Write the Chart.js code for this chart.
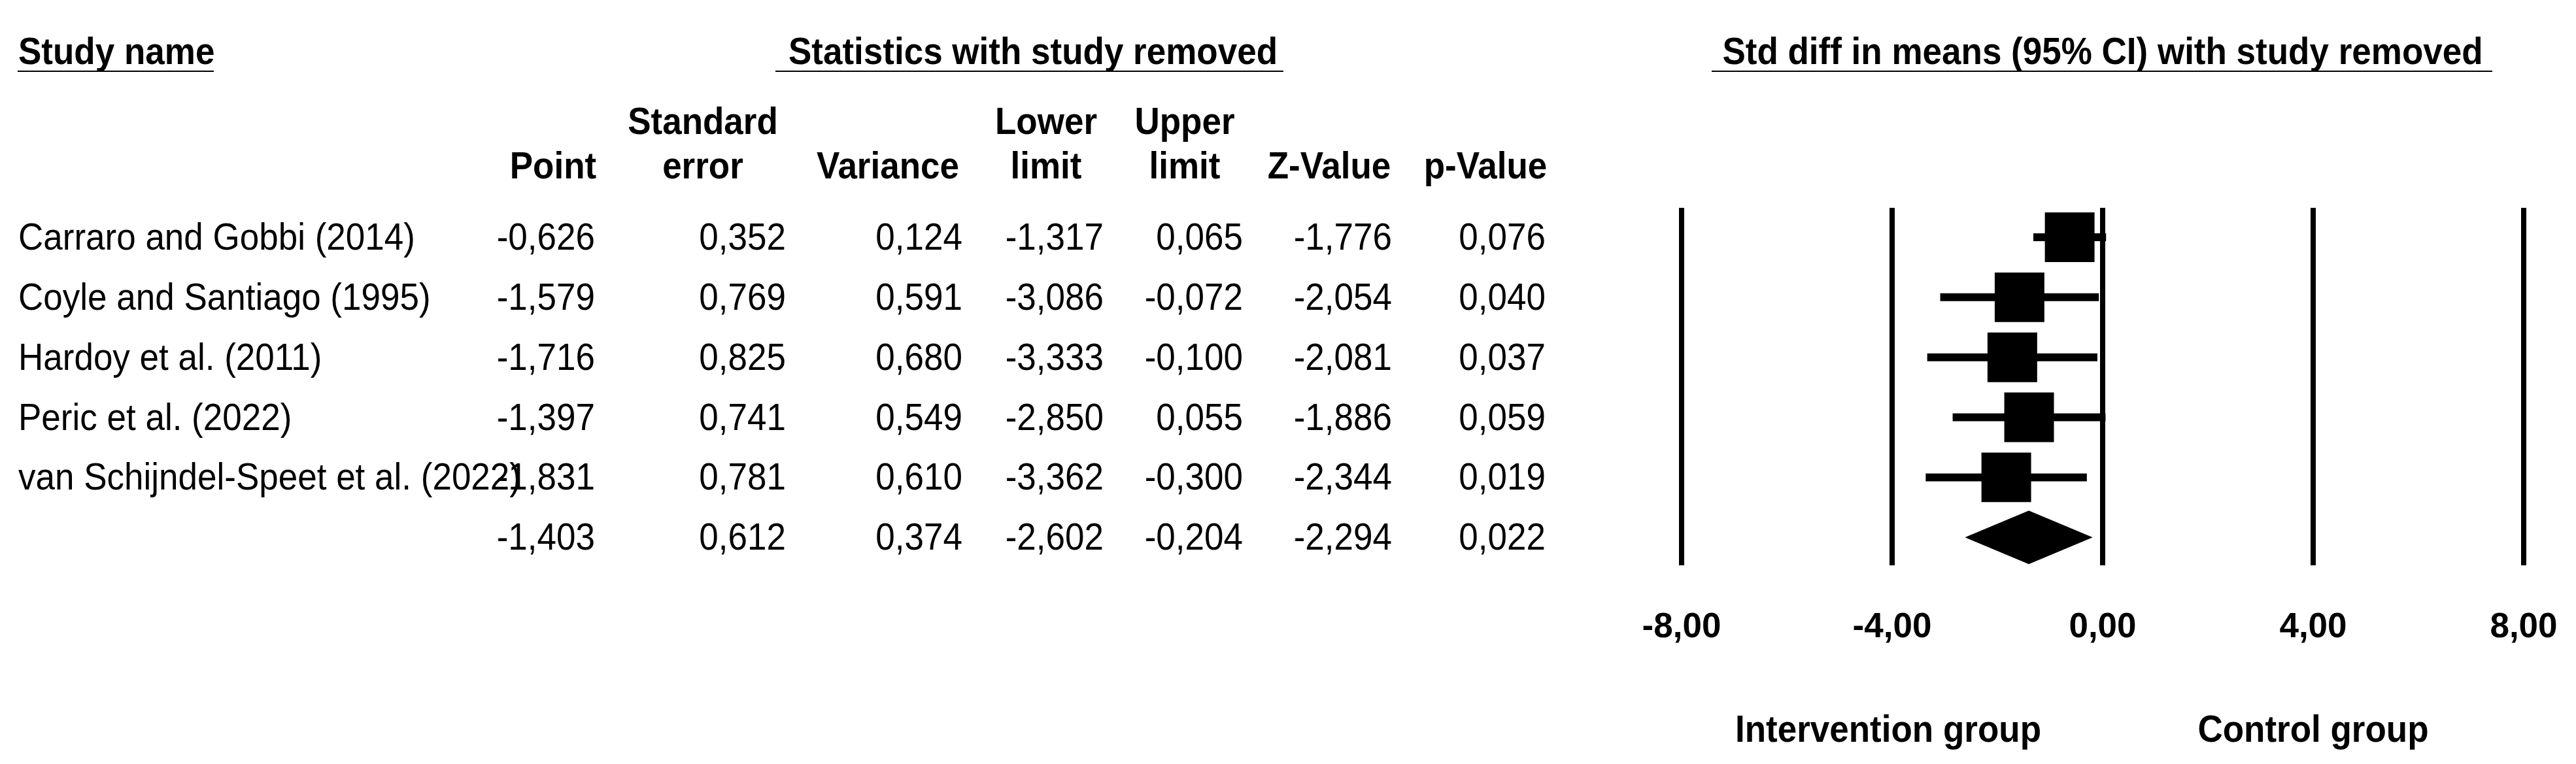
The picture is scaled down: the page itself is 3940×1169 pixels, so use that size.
<!DOCTYPE html>
<html>
<head>
<meta charset="utf-8">
<script src="https://cdn.jsdelivr.net/npm/chart.js@4.4.0/dist/chart.umd.min.js"></script>
<style>
  html, body { margin: 0; padding: 0; background: #fff; }
  #wrap { width: 3940px; height: 1169px; }
</style>
</head>
<body>
<div id="wrap"><canvas id="forest" width="3940" height="1169"></canvas></div>
<script>
// study rows, last entry of each value array is the combined (summary) row
var studyNames = [
  'Carraro and Gobbi (2014)',
  'Coyle and Santiago (1995)',
  'Hardoy et al. (2011)',
  'Peric et al. (2022)',
  'van Schijndel-Speet et al. (2022)'
];
var point      = [-0.626, -1.579, -1.716, -1.397, -1.831, -1.403];
var stdError   = [0.352, 0.769, 0.825, 0.741, 0.781, 0.612];
var variance   = [0.124, 0.591, 0.680, 0.549, 0.610, 0.374];
var lowerLimit = [-1.317, -3.086, -3.333, -2.850, -3.362, -2.602];
var upperLimit = [0.065, -0.072, -0.100, 0.055, -0.300, -0.204];
var zValue     = [-1.776, -2.054, -2.081, -1.886, -2.344, -2.294];
var pValue     = [0.076, 0.040, 0.037, 0.059, 0.019, 0.022];

var headTop    = ['', 'Standard', '', 'Lower', 'Upper', '', ''];
var headBottom = ['Point', 'error', 'Variance', 'limit', 'limit', 'Z-Value', 'p-Value'];
var axisMin = -8, axisMax = 8, axisStep = 4;

// layout of the table (pixels)
var headCenter = [846, 1075, 1358, 1600, 1812, 2033, 2272];
var dataRight  = [910, 1202, 1472, 1688, 1901, 2129, 2364];
var FONT = '"Liberation Sans", Arial, sans-serif';
var DIAMOND_HALF = 0.44;

var columns = [point, stdError, variance, lowerLimit, upperLimit, zValue, pValue];
var summaryRow = studyNames.length;

function fmt(v, d) {
  return v.toFixed(d).replace('.', ',');
}

function drawText(ctx, text, x, y, align, bold) {
  ctx.save();
  ctx.font = (bold ? 'bold ' : '') + '53px ' + FONT;
  ctx.textAlign = align;
  ctx.textBaseline = 'alphabetic';
  ctx.fillStyle = '#000';
  ctx.translate(x, y);
  ctx.scale(1, 1.07);
  ctx.fillText(text, 0, 0);
  ctx.restore();
}

var tableText = {
  id: 'tableText',
  afterDraw: function(chart) {
    var ctx = chart.ctx;
    var ys = chart.scales.y, xs = chart.scales.x;

    // titles with underline
    drawText(ctx, 'Study name', 28, 98, 'left', true);
    drawText(ctx, 'Statistics with study removed', 1580, 98, 'center', true);
    drawText(ctx, 'Std diff in means (95% CI) with study removed', xs.getPixelForValue(0), 98, 'center', true);
    ctx.fillStyle = '#000';
    ctx.fillRect(27, 108, 300, 2);
    ctx.fillRect(1186, 108, 777, 2);
    ctx.fillRect(2618, 108, 1194, 2);

    // column headers
    for (var c = 0; c < headBottom.length; c++) {
      if (headTop[c]) drawText(ctx, headTop[c], headCenter[c], 205, 'center', true);
      drawText(ctx, headBottom[c], headCenter[c], 273, 'center', true);
    }

    // rows
    for (var r = 0; r <= summaryRow; r++) {
      var y = ys.getPixelForValue(r) + 19;
      if (r < studyNames.length) drawText(ctx, studyNames[r], 28, y, 'left', false);
      for (var k = 0; k < columns.length; k++) {
        drawText(ctx, fmt(columns[k][r], 3), dataRight[k], y, 'right', false);
      }
    }

    // favours labels
    drawText(ctx, 'Intervention group', xs.getPixelForValue(-4) - 6, 1135, 'center', true);
    drawText(ctx, 'Control group', xs.getPixelForValue(4), 1135, 'center', true);
  }
};

var datasets = [];
studyNames.forEach(function(name, i) {
  datasets.push({
    label: name,
    data: [{ x: lowerLimit[i], y: i }, { x: upperLimit[i], y: i }],
    showLine: true,
    borderColor: '#000',
    borderWidth: 12,
    borderCapStyle: 'butt',
    pointRadius: 0,
    fill: false
  });
});
datasets.push({
  label: 'Point',
  data: studyNames.map(function(n, i) { return { x: point[i], y: i }; }),
  pointStyle: 'rect',
  pointRadius: 53.7,
  pointBorderWidth: 0,
  backgroundColor: '#000',
  borderColor: '#000'
});
datasets.push({
  label: 'Combined',
  data: [
    { x: lowerLimit[summaryRow], y: summaryRow },
    { x: point[summaryRow], y: summaryRow - DIAMOND_HALF },
    { x: upperLimit[summaryRow], y: summaryRow },
    { x: point[summaryRow], y: summaryRow + DIAMOND_HALF },
    { x: lowerLimit[summaryRow], y: summaryRow }
  ],
  showLine: true,
  fill: 'shape',
  backgroundColor: '#000',
  borderColor: '#000',
  borderWidth: 1,
  pointRadius: 0,
  tension: 0
});

var ctxForest = document.getElementById('forest').getContext('2d');
new Chart(ctxForest, {
  type: 'scatter',
  data: { datasets: datasets },
  options: {
    responsive: false,
    animation: false,
    devicePixelRatio: 1,
    layout: { padding: { left: 2572, right: 80, top: 318, bottom: 177 } },
    plugins: { legend: { display: false }, tooltip: { enabled: false } },
    scales: {
      x: {
        type: 'linear',
        min: axisMin,
        max: axisMax,
        ticks: {
          stepSize: axisStep,
          padding: 0,
          color: '#000',
          font: { family: FONT, size: 53, weight: 'bold' },
          callback: function(v) { return fmt(v, 2); }
        },
        grid: {
          color: '#000',
          lineWidth: 8,
          drawTicks: true,
          tickLength: 63,
          tickColor: 'rgba(0,0,0,0)'
        },
        border: { display: false }
      },
      y: {
        type: 'linear',
        reverse: true,
        min: -0.49,
        max: 5.47,
        display: false
      }
    }
  },
  plugins: [tableText]
});
</script>
</body>
</html>
